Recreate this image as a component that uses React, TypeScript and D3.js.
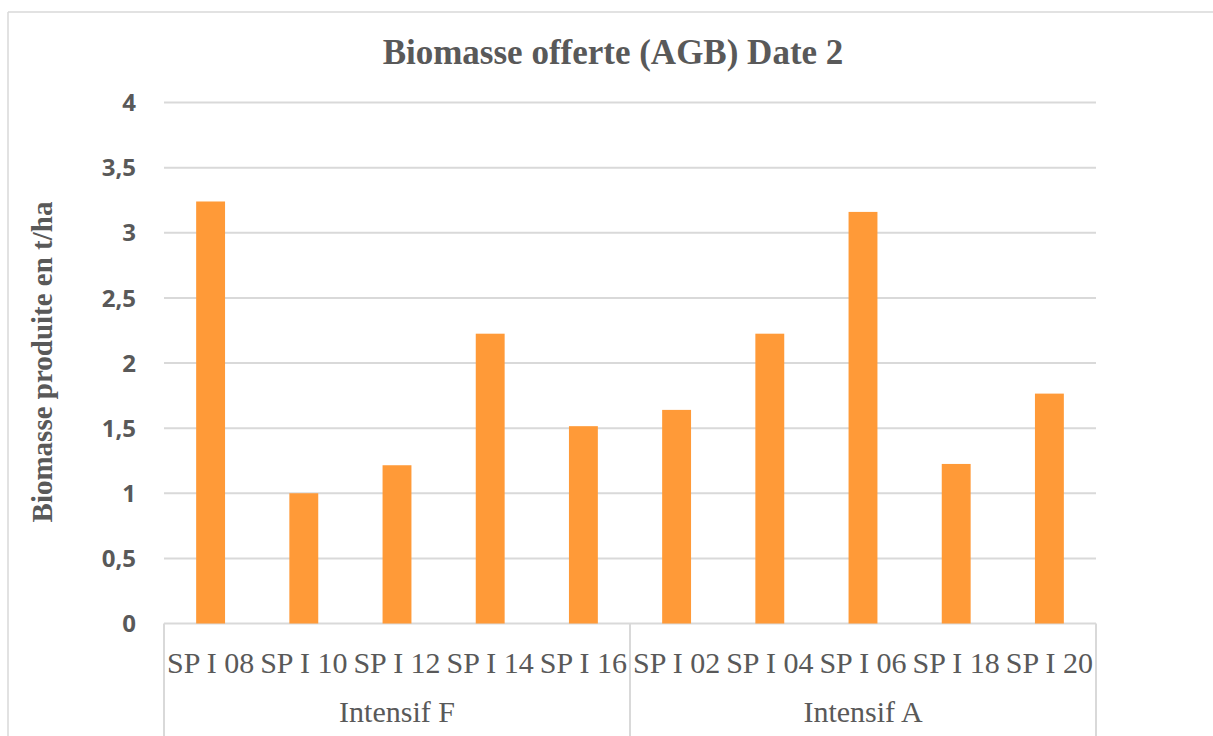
import React from "react";
import { scaleBand, scaleLinear, formatLocale } from "d3";

const categories = ["SP I 08", "SP I 10", "SP I 12", "SP I 14", "SP I 16", "SP I 02", "SP I 04", "SP I 06", "SP I 18", "SP I 20"];
const groups = ["Intensif F", "Intensif A"];
const groupOf = ["Intensif F", "Intensif F", "Intensif F", "Intensif F", "Intensif F", "Intensif A", "Intensif A", "Intensif A", "Intensif A", "Intensif A"];
const biomass = [3.24, 1.0, 1.215, 2.225, 1.515, 1.64, 2.225, 3.16, 1.225, 1.765];
const yTicks = [0, 0.5, 1, 1.5, 2, 2.5, 3, 3.5, 4];

const W = 1213;
const H = 736;
const TEXT = "#595959";
const GRID = "#d9d9d9";
const BAR = "#ff9a38";

const fr = formatLocale({ decimal: ",", thousands: " ", grouping: [3], currency: ["", " €"] });
const fmt = fr.format("~g");

export default function App() {
  const left = 164;
  const right = 1096;
  const top = 102.5;
  const bottom = 623.5;

  const x = scaleBand<string>().domain(categories).range([left, right]).paddingInner(0.69).paddingOuter(0.345);
  const xOuter = scaleBand<string>().domain(categories).range([left, right]);
  const y = scaleLinear().domain([0, 4]).range([bottom, top]);

  // group boundaries from the category scale
  const groupSpans = groups.map((g) => {
    const cats = categories.filter((_, i) => groupOf[i] === g);
    const x0 = xOuter(cats[0])!;
    const x1 = xOuter(cats[cats.length - 1])! + xOuter.bandwidth();
    return { g, x0, x1 };
  });
  const dividers = Array.from(new Set(groupSpans.flatMap((s) => [s.x0, s.x1])));

  return (
    <svg width={W} height={H} style={{ position: "absolute", left: 0, top: 0, background: "#fff" }}>
      {/* chart area border */}
      <line x1={8} x2={W} y1={12} y2={12} stroke={GRID} strokeWidth={1.5} />
      <line x1={8} x2={8} y1={12} y2={H} stroke={GRID} strokeWidth={1.5} />

      <text x={613} y={64} textAnchor="middle" fontFamily="'Liberation Serif', serif" fontWeight="bold" fontSize={35} fill={TEXT}>
        Biomasse offerte (AGB) Date 2
      </text>

      {yTicks.map((t) => (
        <g key={t}>
          <line x1={left} x2={right} y1={y(t)} y2={y(t)} stroke={GRID} strokeWidth={2} />
          <text x={136} y={y(t)} dy="0.36em" textAnchor="end" fontFamily="'Open Sans', sans-serif" fontWeight="bold" fontSize={24} fill={TEXT}>
            {fmt(t)}
          </text>
        </g>
      ))}

      {categories.map((c, i) => (
        <rect key={c} x={x(c)} y={y(biomass[i])} width={x.bandwidth()} height={y(0) - y(biomass[i])} fill={BAR} />
      ))}

      {dividers.map((d) => (
        <line key={d} x1={d} x2={d} y1={bottom} y2={H} stroke={GRID} strokeWidth={2} />
      ))}

      {categories.map((c) => (
        <text key={c} x={xOuter(c)! + xOuter.bandwidth() / 2} y={673} textAnchor="middle" fontFamily="'Liberation Serif', serif" fontSize={30} fill={TEXT}>
          {c}
        </text>
      ))}

      {groupSpans.map((s) => (
        <text key={s.g} x={(s.x0 + s.x1) / 2} y={722} textAnchor="middle" fontFamily="'Liberation Serif', serif" fontSize={30} fill={TEXT}>
          {s.g}
        </text>
      ))}

      <text transform={`translate(52, 362) rotate(-90)`} textAnchor="middle" fontFamily="'Liberation Serif', serif" fontWeight="bold" fontSize={29} fill={TEXT}>
        Biomasse produite en t/ha
      </text>
    </svg>
  );
}
